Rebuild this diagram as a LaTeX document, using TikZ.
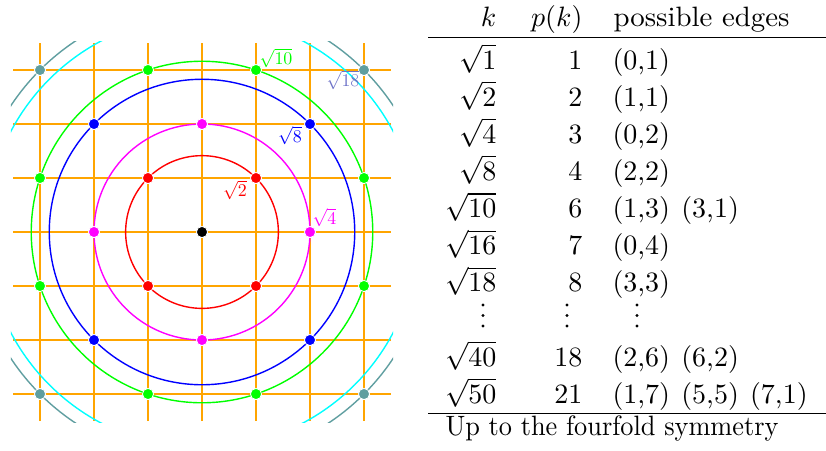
\documentclass[tikz,border=0pt]{standalone}
\usepackage{fontspec}
\definecolor{gridorange}{RGB}{255,165,0}
\definecolor{cadet}{RGB}{95,158,160}
\definecolor{labeighteen}{RGB}{110,115,200}
\definecolor{ringred}{RGB}{255,0,0}
\definecolor{ringmag}{RGB}{255,0,255}
\definecolor{ringblue}{RGB}{0,0,255}
\definecolor{ringgreen}{RGB}{0,255,0}
\definecolor{ringcyan}{RGB}{0,255,255}
\newcommand{\gap}{\hspace{4pt}}
\newcommand{\myrow}[5]{%
  \node[cell,anchor=base east] (k#1) at (497,#2) {$\sqrt{#3}$};
  \node[cell,anchor=base east] (p#1) at (583,#2) {#4};
  \node[cell,anchor=base west] (e#1) at (612,#2) {#5};
}
\begin{document}
\begin{tikzpicture}[x=0.35714pt,y=-0.35714pt,
  gridline/.style={gridorange,line width=0.6pt},
  axisline/.style={gridorange,line width=1pt},
  ring/.style={line width=0.5pt},
  dot/.style={circle,fill=#1,draw=white,line width=0.3pt,inner sep=0pt,minimum size=4pt},
  vdot/.style={circle,fill=black,inner sep=0pt,minimum size=1.1pt},
  lab/.style={text=#1,scale=0.64,inner sep=0pt},
  cell/.style={inner sep=0pt},
  tabrule/.style={line width=0.5pt}
]
\useasboundingbox (0,0) rectangle (826,450);
\coordinate (O) at (202,232);
\begin{scope}[shift={(O)},x=19.2857pt,y=19.2857pt]
  \foreach \i in {-3,-2,-1,1,2,3} {
    \draw[gridline] (\i,-3.5) -- (\i,3.5);
    \draw[gridline] (-3.5,\i) -- (3.5,\i);
  }
  \draw[axisline] (0,-3.5) -- (0,3.5);
  \draw[axisline] (-3.5,0) -- (3.5,0);
  \begin{scope}
    \clip (-3.54,-3.53) rectangle (3.54,3.53);
    \draw[ring,ringred] (0,0) circle ({sqrt(2)});
    \draw[ring,ringmag] (0,0) circle (2);
    \draw[ring,ringblue] (0,0) circle ({sqrt(8)});
    \draw[ring,ringgreen] (0,0) circle ({sqrt(10)});
    \draw[ring,ringcyan] (0,0) circle (4);
    \draw[ring,cadet] (0,0) circle ({sqrt(18)});
  \end{scope}
  \node[dot=black] (d00) at (0,0) {};
  \foreach \a in {-1,1} \foreach \b in {-1,1} {
    \node[dot=ringred] (r\a\b) at (\a,\b) {};
    \node[dot=ringblue] (b\a\b) at (2*\a,2*\b) {};
    \node[dot=ringgreen] (ga\a\b) at (\a,3*\b) {};
    \node[dot=ringgreen] (gb\a\b) at (3*\a,\b) {};
    \node[dot=cadet] (t\a\b) at (3*\a,3*\b) {};
  }
  \foreach \a in {-1,1} {
    \node[dot=ringmag] (mx\a) at (2*\a,0) {};
    \node[dot=ringmag] (my\a) at (0,2*\a) {};
  }
\end{scope}
% circle labels
\node[lab=ringgreen] (l10) at (276,58) {$\sqrt{10}$};
\node[lab=labeighteen] (l18) at (343,80) {$\sqrt{18}$};
\node[lab=ringblue] (l8) at (290,135.5) {$\sqrt{8}$};
\node[lab=ringred] (l2) at (235,190) {$\sqrt{2}$};
\node[lab=ringmag] (l4) at (324.5,217.5) {$\sqrt{4}$};
% table
\node[cell,anchor=base east] (hk) at (497,26.7) {$k$};
\node[cell,anchor=base east] (hp) at (583,26.7) {$p(k)$};
\node[cell,anchor=base west,xscale=1.03] (he) at (613,26.7) {possible edges};
\coordinate (ra) at (428,37.7);
\coordinate (rb) at (826,37.7);
\draw[tabrule] (ra) -- (rb);
\myrow{1}{69.3}{1}{1}{(0,1)}
\myrow{2}{106.4}{2}{2}{(1,1)}
\myrow{3}{143.5}{4}{3}{(0,2)}
\myrow{4}{180.6}{8}{4}{(2,2)}
\myrow{5}{217.7}{10}{6}{(1,3)\gap(3,1)}
\myrow{6}{254.8}{16}{7}{(0,4)}
\myrow{7}{291.9}{18}{8}{(3,3)}
\foreach \c/\xx in {k/483,p/567,e/637} {
  \node[vdot] (v\c1) at (\xx,305) {};
  \node[vdot] (v\c2) at (\xx,315.5) {};
  \node[vdot] (v\c3) at (\xx,326) {};
}
\myrow{9}{366.2}{40}{18}{(2,6)\gap(6,2)}
\myrow{10}{403.3}{50}{21}{(1,7)\gap(5,5)\gap(7,1)}
\coordinate (rc) at (428,413.3);
\coordinate (rd) at (826,413.3);
\draw[tabrule] (rc) -- (rd);
\node[cell,anchor=base west,xscale=0.94] (note) at (445,435) {Up to the fourfold symmetry};
\end{tikzpicture}
\end{document}
